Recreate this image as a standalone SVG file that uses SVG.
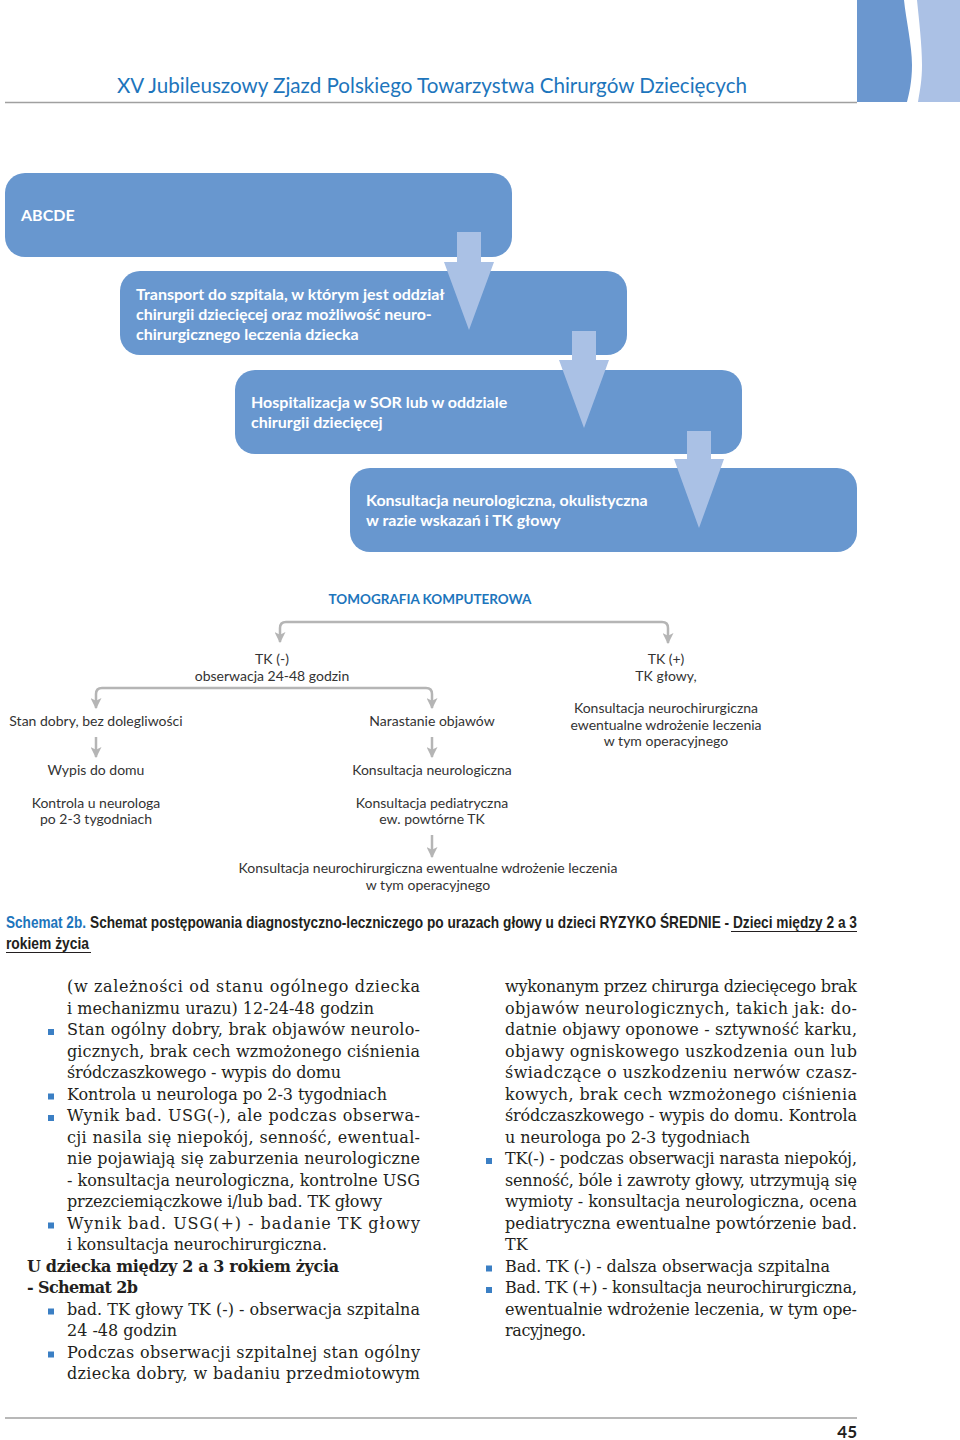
<svg xmlns="http://www.w3.org/2000/svg" width="960" height="1440" viewBox="0 0 960 1440">
<defs>
<style>
.box{fill:#6897cf}
.arw{fill:#aac1e5}
.bt{font-family:Lato,"Open Sans",sans-serif;font-weight:bold;font-size:16px;fill:#fff}
.tt{font-family:Lato,"Open Sans",sans-serif;font-size:14px;fill:#333;text-anchor:middle}
.con{fill:none;stroke:#b5b5b5;stroke-width:2.5}
.body{font-family:"DejaVu Serif","Liberation Serif",serif;font-size:16px;fill:#231f20}
.bb{font-weight:bold}
.bul{fill:#3b7fc4}
.cap{font-family:"Liberation Sans",Arial,sans-serif;font-weight:bold;font-size:16.5px}
</style>
<marker id="ah" viewBox="0 0 10 10" refX="9" refY="5" markerWidth="11" markerHeight="11" markerUnits="userSpaceOnUse" orient="auto">
<path d="M0,0 L10,5 L0,10 L2.5,5 Z" fill="#b5b5b5"/>
</marker>
</defs>
<rect width="960" height="1440" fill="#fff"/>

<g id="header">
<path d="M857,0 H904 C906,20 912,45 912,65 C912,82 909,94 907,102 H857 Z" fill="#6b97cf"/>
<path d="M917,0 H960 V102 H918 C920,90 922,80 922,65 C922,45 919,20 917,0 Z" fill="#abc1e5"/>
<line x1="5" y1="102.5" x2="857" y2="102.5" stroke="#a0a0a0" stroke-width="1.5"/>
<text x="117" y="93" font-family="Lato,'Open Sans',sans-serif" font-size="21" fill="#1d75bc" textLength="630" lengthAdjust="spacingAndGlyphs">XV Jubileuszowy Zjazd Polskiego Towarzystwa Chirurgów Dziecięcych</text>
</g>

<g id="box1"><rect class="box" x="5" y="173" width="507" height="84" rx="20"/><text class="bt" x="21" y="221">ABCDE</text></g>
<g id="box2"><rect class="box" x="120" y="271" width="507" height="84" rx="20"/>
<text class="bt" x="136" y="300">Transport do szpitala, w którym jest oddział</text>
<text class="bt" x="136" y="320">chirurgii dziecięcej oraz możliwość neuro-</text>
<text class="bt" x="136" y="340">chirurgicznego leczenia dziecka</text></g>
<g id="box3"><rect class="box" x="235" y="370" width="507" height="84" rx="20"/>
<text class="bt" x="251" y="408">Hospitalizacja w SOR lub w oddziale</text>
<text class="bt" x="251" y="428">chirurgii dziecięcej</text></g>
<g id="box4"><rect class="box" x="350" y="468" width="507" height="84" rx="20"/>
<text class="bt" x="366" y="506">Konsultacja neurologiczna, okulistyczna</text>
<text class="bt" x="366" y="526">w razie wskazań i TK głowy</text></g>

<g id="flow-arrows">
<path class="arw" d="M457,232 H481 V262 H494 L469,330 L444,262 H457 Z"/>
<path class="arw" d="M572,331 H596 V360 H609 L584,428 L559,360 H572 Z"/>
<path class="arw" d="M687,431 H711 V459 H724 L699,528 L674,459 H687 Z"/>
</g>

<g id="tree-title"><text x="430" y="604" font-family="Lato,'Open Sans',sans-serif" font-weight="bold" font-size="13.5" fill="#1d75bc" text-anchor="middle">TOMOGRAFIA KOMPUTEROWA</text></g>

<g id="connectors">
<path class="con" marker-end="url(#ah)" d="M474,622 H286 Q280,622 280,628 V642"/>
<path class="con" marker-end="url(#ah)" d="M474,622 H662 Q668,622 668,628 V643"/>
<path class="con" marker-end="url(#ah)" d="M264,688 H102 Q96,688 96,694 V708"/>
<path class="con" marker-end="url(#ah)" d="M264,688 H426 Q432,688 432,694 V708"/>
<path class="con" marker-end="url(#ah)" d="M96,737 V757"/>
<path class="con" marker-end="url(#ah)" d="M432,737 V757"/>
<path class="con" marker-end="url(#ah)" d="M432,835 V857"/>
</g>

<g id="n-tkminus"><text class="tt" x="272" y="664">TK (-)</text><text class="tt" x="272" y="681">obserwacja 24-48 godzin</text></g>
<g id="n-tkplus"><text class="tt" x="666" y="664">TK (+)</text><text class="tt" x="666" y="681">TK głowy,</text></g>
<g id="n-neurochir1"><text class="tt" x="666" y="713">Konsultacja neurochirurgiczna</text><text class="tt" x="666" y="730">ewentualne wdrożenie leczenia</text><text class="tt" x="666" y="746">w tym operacyjnego</text></g>
<g id="n-stan"><text class="tt" x="96" y="726">Stan dobry, bez dolegliwości</text></g>
<g id="n-narast"><text class="tt" x="432" y="726">Narastanie objawów</text></g>
<g id="n-wypis"><text class="tt" x="96" y="775">Wypis do domu</text></g>
<g id="n-neuro"><text class="tt" x="432" y="775">Konsultacja neurologiczna</text></g>
<g id="n-kontrola"><text class="tt" x="96" y="808">Kontrola u neurologa</text><text class="tt" x="96" y="824">po 2-3 tygodniach</text></g>
<g id="n-pediatr"><text class="tt" x="432" y="808">Konsultacja pediatryczna</text><text class="tt" x="432" y="824">ew. powtórne TK</text></g>
<g id="n-neurochir2"><text class="tt" x="428" y="873">Konsultacja neurochirurgiczna ewentualne wdrożenie leczenia</text><text class="tt" x="428" y="890">w tym operacyjnego</text></g>

<g id="caption">
<g transform="scale(0.78,1)">
<text class="cap" x="7.69" y="928" fill="#1d75bc" textLength="102.5" lengthAdjust="spacingAndGlyphs">Schemat 2b.</text>
<text class="cap" x="115.4" y="928" fill="#231f20" textLength="983.3" lengthAdjust="spacingAndGlyphs">Schemat postępowania diagnostyczno-leczniczego po urazach głowy u dzieci RYZYKO ŚREDNIE - Dzieci między 2 a 3</text>
<text class="cap" x="7.69" y="949" fill="#231f20" textLength="106.4" lengthAdjust="spacingAndGlyphs">rokiem życia</text>
</g>
<line x1="731" y1="931.5" x2="857" y2="931.5" stroke="#231f20" stroke-width="1"/>
<line x1="6" y1="952.5" x2="91" y2="952.5" stroke="#231f20" stroke-width="1"/>
</g>

<g id="col-left" class="body">
<text x="67" y="992" textLength="353" lengthAdjust="spacing">(w zależności od stanu ogólnego dziecka</text>
<text x="67" y="1013.5" textLength="307" lengthAdjust="spacing">i mechanizmu urazu) 12-24-48 godzin</text>
<text x="67" y="1035" textLength="353" lengthAdjust="spacing">Stan ogólny dobry, brak objawów neurolo-</text>
<text x="67" y="1056.5" textLength="353" lengthAdjust="spacing">gicznych, brak cech wzmożonego ciśnienia</text>
<text x="67" y="1078" textLength="274" lengthAdjust="spacing">śródczaszkowego - wypis do domu</text>
<text x="67" y="1099.5" textLength="320" lengthAdjust="spacing">Kontrola u neurologa po 2-3 tygodniach</text>
<text x="67" y="1121" textLength="353" lengthAdjust="spacing">Wynik bad. USG(-), ale podczas obserwa-</text>
<text x="67" y="1142.5" textLength="353" lengthAdjust="spacing">cji nasila się niepokój, senność, ewentual-</text>
<text x="67" y="1164" textLength="353" lengthAdjust="spacing">nie pojawiają się zaburzenia neurologiczne</text>
<text x="67" y="1185.5" textLength="353" lengthAdjust="spacing">- konsultacja neurologiczna, kontrolne USG</text>
<text x="67" y="1207" textLength="315" lengthAdjust="spacing">przezciemiączkowe i/lub bad. TK głowy</text>
<text x="67" y="1228.5" textLength="353" lengthAdjust="spacing">Wynik bad. USG(+) - badanie TK głowy</text>
<text x="67" y="1250" textLength="260" lengthAdjust="spacing">i konsultacja neurochirurgiczna.</text>
<text class="bb" x="27" y="1271.5" textLength="312" lengthAdjust="spacing">U dziecka między 2 a 3 rokiem życia</text>
<text class="bb" x="27" y="1293" textLength="111" lengthAdjust="spacing">- Schemat 2b</text>
<text x="67" y="1314.5" textLength="353" lengthAdjust="spacing">bad. TK głowy TK (-) - obserwacja szpitalna</text>
<text x="67" y="1336" textLength="110" lengthAdjust="spacing">24 -48 godzin</text>
<text x="67" y="1357.5" textLength="353" lengthAdjust="spacing">Podczas obserwacji szpitalnej stan ogólny</text>
<text x="67" y="1379" textLength="353" lengthAdjust="spacing">dziecka dobry, w badaniu przedmiotowym</text>
</g>
<g id="bullets-left" class="bul">
<rect x="48" y="1029" width="6" height="6"/>
<rect x="48" y="1093.5" width="6" height="6"/>
<rect x="48" y="1115" width="6" height="6"/>
<rect x="48" y="1222.5" width="6" height="6"/>
<rect x="48" y="1308.5" width="6" height="6"/>
<rect x="48" y="1351.5" width="6" height="6"/>
</g>

<g id="col-right" class="body">
<text x="505" y="992" textLength="352" lengthAdjust="spacing">wykonanym przez chirurga dziecięcego brak</text>
<text x="505" y="1013.5" textLength="352" lengthAdjust="spacing">objawów neurologicznych, takich jak: do-</text>
<text x="505" y="1035" textLength="352" lengthAdjust="spacing">datnie objawy oponowe - sztywność karku,</text>
<text x="505" y="1056.5" textLength="352" lengthAdjust="spacing">objawy ogniskowego uszkodzenia oun lub</text>
<text x="505" y="1078" textLength="352" lengthAdjust="spacing">świadczące o uszkodzeniu nerwów czasz-</text>
<text x="505" y="1099.5" textLength="352" lengthAdjust="spacing">kowych, brak cech wzmożonego ciśnienia</text>
<text x="505" y="1121" textLength="352" lengthAdjust="spacing">śródczaszkowego - wypis do domu. Kontrola</text>
<text x="505" y="1142.5" textLength="245" lengthAdjust="spacing">u neurologa po 2-3 tygodniach</text>
<text x="505" y="1164" textLength="352" lengthAdjust="spacing">TK(-) - podczas obserwacji narasta niepokój,</text>
<text x="505" y="1185.5" textLength="352" lengthAdjust="spacing">senność, bóle i zawroty głowy, utrzymują się</text>
<text x="505" y="1207" textLength="352" lengthAdjust="spacing">wymioty - konsultacja neurologiczna, ocena</text>
<text x="505" y="1228.5" textLength="352" lengthAdjust="spacing">pediatryczna ewentualne powtórzenie bad.</text>
<text x="505" y="1250">TK</text>
<text x="505" y="1271.5" textLength="325" lengthAdjust="spacing">Bad. TK (-) - dalsza obserwacja szpitalna</text>
<text x="505" y="1293" textLength="352" lengthAdjust="spacing">Bad. TK (+) - konsultacja neurochirurgiczna,</text>
<text x="505" y="1314.5" textLength="352" lengthAdjust="spacing">ewentualnie wdrożenie leczenia, w tym ope-</text>
<text x="505" y="1336" textLength="81" lengthAdjust="spacing">racyjnego.</text>
</g>
<g id="bullets-right" class="bul">
<rect x="486" y="1158" width="6" height="6"/>
<rect x="486" y="1265.5" width="6" height="6"/>
<rect x="486" y="1287" width="6" height="6"/>
</g>

<g id="footer">
<line x1="5" y1="1418" x2="857" y2="1418" stroke="#a0a0a0" stroke-width="1.5"/>
<text x="857" y="1438" font-family="Lato,'Open Sans',sans-serif" font-weight="bold" font-size="17" fill="#231f20" text-anchor="end">45</text>
</g>
</svg>
